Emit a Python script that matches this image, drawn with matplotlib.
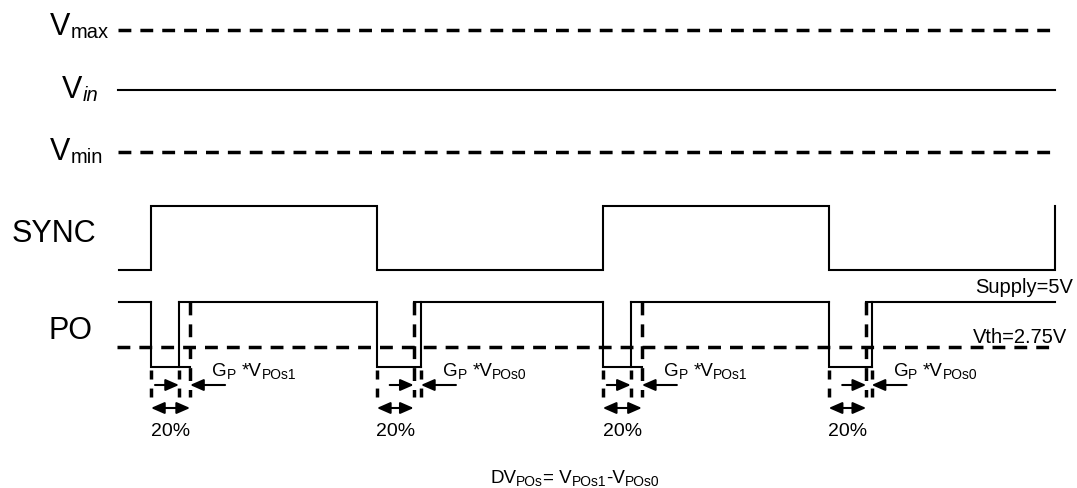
import matplotlib
matplotlib.use("Agg")
import matplotlib.pyplot as plt

plt.rcParams['font.family'] = ['Liberation Sans', 'DejaVu Sans']

# timing data, in half periods of SYNC
sync_edges = [0, 1, 2, 3, 4]
t_start = -0.142
t_end = 4.0
po_fall = [0.0, 1.0, 2.0, 3.0]
po_rise = [0.124, 1.195, 2.124, 3.19]     # solid PO rising edge
vth_cross = [0.173, 1.163, 2.173, 3.166]  # dashed line, threshold crossing
gain_subs = ['POs1', 'POs0', 'POs1', 'POs0']
pct_label = '20%'

# layout (pixels)
X0, HALF = 151.0, 225.9
def xt(px):
    return (px - X0) / HALF
def dp(px):
    return px / HALF

VMAX_Y, VIN_Y, VMIN_Y = 30, 90, 152
SYNC_HI, SYNC_LO = 206, 270
PO_HI, VTH_Y, PO_LO, EXT_Y = 302, 347, 367, 397
ARR1_Y, ARR2_Y = 385, 408

LW = 1.5
DLW = 2.5
DASH = (0, (3.7, 2.6))

fig = plt.figure(figsize=(10.77, 4.88), dpi=100)
ax = fig.add_axes([0, 0, 1, 1])
ax.set_xlim(xt(0), xt(1077))
ax.set_ylim(488, 0)
ax.axis('off')
renderer = fig.canvas.get_renderer()

def chain(x, y, parts):
    # parts: (text, size, dy in points, gap before in points, style)
    off = 0.0
    for s, size, dy, gap, style in parts:
        off += gap
        t = ax.annotate(s, xy=(x, y), xytext=(off, dy), textcoords='offset points',
                        fontsize=size, style=style, va='baseline', ha='left')
        off += t.get_window_extent(renderer).width * 72 / fig.dpi

# supply rails
ax.plot([xt(118), xt(1055)], [VMAX_Y, VMAX_Y], color='k', lw=DLW, ls=DASH)
ax.plot([xt(118), xt(1055)], [VIN_Y, VIN_Y], color='k', lw=LW)
ax.plot([xt(118), xt(1055)], [VMIN_Y, VMIN_Y], color='k', lw=DLW, ls=DASH)

chain(xt(50), 35, [('V', 22, 0, 0, 'normal'), ('max', 14.5, -2, 0, 'normal')])
chain(xt(62), 98, [('V', 22, 0, 0, 'normal'), ('in', 14.5, -2, 0, 'italic')])
chain(xt(50), 160, [('V', 22, 0, 0, 'normal'), ('min', 14.5, -2, 0, 'normal')])

# SYNC
sx, sy = [t_start], [SYNC_LO]
level = SYNC_LO
for e in sync_edges:
    sx.append(e); sy.append(level)
    level = SYNC_HI if level == SYNC_LO else SYNC_LO
    sx.append(e); sy.append(level)
ax.plot(sx, sy, color='k', lw=LW, solid_joinstyle='miter')
ax.text(xt(12), 242, 'SYNC', fontsize=22, va='baseline', ha='left')

# PO
ax.text(xt(48), 339, 'PO', fontsize=22, va='baseline', ha='left')
ax.plot([xt(117), t_end], [VTH_Y, VTH_Y], color='k', lw=DLW, ls=DASH)
ax.plot([t_start, po_fall[0]], [PO_HI, PO_HI], color='k', lw=LW)
for i in range(len(po_fall)):
    f, r, v = po_fall[i], po_rise[i], vth_cross[i]
    nxt = po_fall[i + 1] if i + 1 < len(po_fall) else t_end
    a, b = min(r, v), max(r, v)
    # pulse
    ax.plot([f, f, b], [PO_HI, PO_LO, PO_LO], color='k', lw=LW, solid_joinstyle='miter')
    ax.plot([r, r], [PO_LO, PO_HI], color='k', lw=LW)
    ax.plot([a, nxt], [PO_HI, PO_HI], color='k', lw=LW)
    # dashed guides
    ax.plot([v, v], [PO_HI, EXT_Y], color='k', lw=DLW, ls=DASH)
    ax.plot([f, f], [PO_LO + 3, EXT_Y], color='k', lw=DLW, ls=(0, (2.6, 2.6)))
    ax.plot([r, r], [PO_LO + 3, EXT_Y], color='k', lw=DLW, ls=(0, (2.6, 2.6)))
    # gain arrows
    ap = dict(arrowstyle='-|>,head_length=0.8,head_width=0.35', mutation_scale=10,
              lw=LW, color='k', shrinkA=0, shrinkB=0)
    ax.annotate('', xy=(a, ARR1_Y), xytext=(a - dp(24), ARR1_Y), arrowprops=ap)
    ax.annotate('', xy=(b, ARR1_Y), xytext=(b + dp(35), ARR1_Y), arrowprops=ap)
    ap2 = dict(ap, arrowstyle='<|-|>,head_length=0.8,head_width=0.35')
    ax.annotate('', xy=(f, ARR2_Y), xytext=(v, ARR2_Y), arrowprops=ap2)
    ax.text((f + v) / 2, 436, pct_label, fontsize=14, ha='center', va='baseline')
    chain(b + dp(22), 376, [('G', 13.5, 0, 0, 'normal'), ('P', 10, -2, 0, 'normal'),
                            ('*V', 13.5, 0, 4, 'normal'), (gain_subs[i], 10, -2, 0, 'normal')])

ax.text(xt(1073), 293, 'Supply=5V', fontsize=14.5, ha='right', va='baseline')
ax.text(xt(1067), 343, 'Vth=2.75V', fontsize=14.5, ha='right', va='baseline')

chain(xt(490), 483, [('DV', 13.5, 0, 0, 'normal'), ('POs', 10, -2, 0, 'normal'),
                     ('= V', 13.5, 0, 0, 'normal'), ('POs1', 10, -2, 0, 'normal'),
                     ('-V', 13.5, 0, 0, 'normal'), ('POs0', 10, -2, 0, 'normal')])

fig.savefig('out.png', dpi=100)
